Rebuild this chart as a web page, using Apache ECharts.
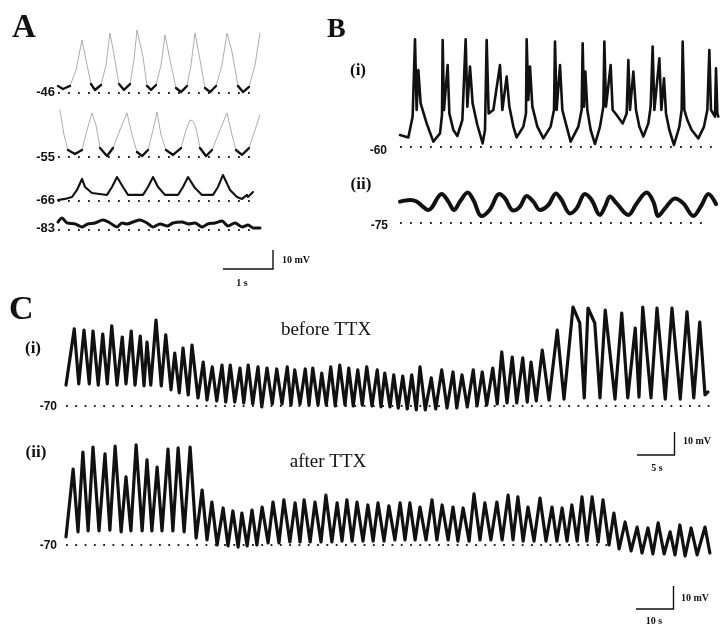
<!DOCTYPE html>
<html><head><meta charset="utf-8">
<script src="https://cdn.jsdelivr.net/npm/echarts/dist/echarts.min.js"></script>
<style>html,body{margin:0;padding:0;background:#fff}#c{width:728px;height:628px}</style>
</head><body><div id="c"></div><script>
// ---------- DATA: [time (s), membrane potential (mV)] ----------
// Panel A, holding levels
const a46 = [[0,-42.3],[0.1,-43.9],[0.24,-42.3],[0.36,-33.9],[0.48,-18.1],[0.56,-28.6],[0.66,-41.3],[0.74,-44.4],[0.86,-41.8],[0.96,-31.3],[1.04,-14.4],[1.12,-26.0],[1.22,-41.3],[1.32,-44.4],[1.44,-41.3],[1.52,-28.6],[1.58,-12.8],[1.7,-27.1],[1.78,-42.3],[1.86,-44.4],[1.96,-41.8],[2.06,-31.3],[2.14,-15.5],[2.24,-28.6],[2.36,-43.4],[2.46,-45.5],[2.58,-42.3],[2.66,-31.3],[2.74,-14.4],[2.84,-28.6],[2.94,-43.4],[3.04,-45.5],[3.16,-42.3],[3.28,-31.3],[3.38,-14.4],[3.48,-24.4],[3.6,-42.3],[3.7,-45.5],[3.82,-42.8],[3.94,-31.3],[4.04,-14.4]];
const a55 = [[0.04,-30.3],[0.12,-43.4],[0.2,-51.3],[0.34,-53.4],[0.48,-51.3],[0.58,-40.8],[0.68,-31.8],[0.76,-38.2],[0.84,-50.3],[0.98,-54.5],[1.1,-50.3],[1.24,-40.8],[1.38,-31.8],[1.48,-43.4],[1.58,-52.4],[1.68,-54.5],[1.8,-51.3],[1.9,-40.8],[1.98,-31.3],[2.06,-43.4],[2.16,-51.3],[2.3,-53.9],[2.46,-50.3],[2.56,-40.8],[2.64,-35.5],[2.7,-36.1],[2.76,-39.7],[2.84,-50.3],[2.96,-54.5],[3.08,-51.3],[3.24,-40.8],[3.38,-31.8],[3.48,-43.4],[3.56,-51.3],[3.68,-53.9],[3.82,-50.3],[3.94,-40.8],[4.04,-32.9]];
const a66 = [[0,-65.5],[0.14,-64.9],[0.28,-63.9],[0.38,-60.2],[0.48,-54.4],[0.54,-58.6],[0.68,-61.8],[0.72,-62.8],[0.98,-62.8],[1.08,-58.6],[1.18,-53.4],[1.3,-58.6],[1.4,-62.8],[1.7,-62.8],[1.8,-58.6],[1.9,-53.4],[2.0,-58.6],[2.14,-62.8],[2.4,-62.8],[2.5,-58.6],[2.6,-53.4],[2.74,-59.2],[2.88,-62.8],[3.1,-62.8],[3.2,-58.6],[3.3,-52.3],[3.44,-60.2],[3.58,-63.9],[3.68,-64.9],[3.78,-62.8],[3.8,-63.9],[3.9,-61.3]];
const a83 = [[0,-78.8],[0.08,-76.7],[0.18,-79.3],[0.34,-79.8],[0.48,-81.4],[0.6,-79.8],[0.74,-79.3],[0.9,-77.7],[1.04,-79.3],[1.18,-81.4],[1.28,-79.3],[1.38,-79.8],[1.5,-78.8],[1.64,-77.7],[1.78,-79.3],[1.9,-81.4],[2.04,-79.8],[2.18,-80.9],[2.3,-79.3],[2.48,-78.8],[2.6,-79.8],[2.74,-79.3],[2.88,-81.4],[3.0,-79.8],[3.14,-79.3],[3.28,-78.3],[3.4,-80.9],[3.54,-79.3],[3.68,-81.4],[3.8,-80.4],[3.9,-81.9],[4.04,-81.9]];
// Panel B
const bI = [
 [0,-54.0],[0.167,-55.2],
 [0.253,-44.8],[0.3,-6.2],[0.333,-41.5],[0.367,-21.5],[0.413,-38.2],[0.533,-48.2],[0.667,-57.3],
 [0.8,-53.2],[0.84,-44.0],[0.853,-6.5],[0.88,-41.5],[0.953,-19.0],[0.987,-43.2],[1.067,-51.5],[1.147,-54.5],
 [1.247,-46.5],[1.313,-6.2],[1.347,-39.8],[1.4,-19.8],[1.453,-38.2],[1.547,-49.0],[1.653,-58.2],
 [1.7,-51.5],[1.733,-6.5],[1.773,-43.2],[1.867,-41.5],[2.0,-19.0],[2.047,-41.5],[2.133,-24.8],[2.187,-39.8],[2.267,-49.8],[2.333,-55.2],
 [2.467,-49.8],[2.52,-43.2],[2.533,-6.2],[2.567,-36.5],[2.6,-19.8],[2.647,-39.8],[2.747,-49.8],[2.867,-55.7],
 [3.013,-49.8],[3.08,-41.5],[3.1,-7.3],[3.133,-41.5],[3.2,-19.0],[3.247,-41.5],[3.333,-49.8],[3.413,-57.3],
 [3.567,-49.8],[3.633,-41.5],[3.653,-8.2],[3.68,-39.8],[3.707,-22.3],[3.747,-41.5],[3.813,-51.5],[3.9,-58.5],
 [4.0,-49.8],[4.067,-39.8],[4.087,-7.3],[4.12,-39.8],[4.213,-19.0],[4.253,-41.5],[4.333,-44.0],[4.453,-48.2],
 [4.533,-43.2],[4.567,-16.5],[4.6,-41.5],[4.667,-22.3],[4.72,-41.5],[4.787,-49.8],[4.867,-54.8],
 [4.967,-48.2],[5.013,-39.8],[5.053,-9.8],[5.087,-41.5],[5.187,-15.7],[5.227,-41.5],[5.28,-25.7],[5.32,-43.2],[5.387,-51.5],[5.48,-59.0],
 [5.587,-49.8],[5.633,-41.5],[5.653,-7.3],[5.687,-41.5],[5.747,-46.5],[5.833,-51.5],[5.967,-55.7],
 [6.08,-49.8],[6.147,-41.5],[6.187,-11.5],[6.22,-41.5],[6.3,-44.8],[6.32,-20.7],[6.347,-43.2],[6.367,-44.8]];
const bII = [[0,-64.3],[0.2,-63.5],[0.333,-64.3],[0.567,-68.5],[0.833,-60.5],[0.967,-64.3],[1.08,-68.5],[1.2,-64.3],[1.353,-59.8],[1.467,-63.5],[1.633,-71.5],[1.8,-68.2],[1.987,-60.5],[2.1,-62.7],[2.267,-68.8],[2.4,-66.8],[2.533,-61.5],[2.667,-64.3],[2.8,-68.5],[2.967,-66.0],[3.12,-60.2],[3.233,-63.5],[3.4,-70.2],[3.533,-67.7],[3.7,-60.5],[3.833,-63.5],[4.0,-71.0],[4.1,-66.8],[4.2,-61.8],[4.333,-65.2],[4.567,-71.0],[4.733,-65.2],[4.933,-59.8],[5.067,-64.3],[5.167,-71.5],[5.3,-67.7],[5.5,-62.7],[5.667,-65.2],[5.867,-71.5],[6.033,-66.0],[6.167,-60.5],[6.32,-65.5]];
// Panel C
const cBefore = [[0,-60.9],
 [1.1,-36.5],[1.7,-60.4],[2.4,-37.0],[3.1,-60.4],[3.6,-37.4],[4.3,-60.9],[4.9,-38.7],[5.5,-60.4],[6.1,-35.2],[6.8,-60.9],
 [7.5,-40.0],[8.0,-60.4],[8.7,-37.4],[9.2,-60.9],[9.9,-39.6],[10.4,-61.3],[10.8,-42.2],[11.3,-60.9],[12.0,-32.6],[12.7,-61.3],
 [13.3,-39.1],[14.0,-63.0],[14.5,-47.0],[15.1,-64.3],[15.6,-44.8],[16.3,-65.2],[16.8,-43.5],[17.6,-66.5],[18.3,-50.9],[18.8,-67.4],
 [19.5,-53.0],[20.1,-67.8],[20.8,-52.2],[21.3,-68.3],[21.9,-52.2],[22.5,-68.3],[23.2,-53.5],[23.7,-68.7],[24.3,-52.2],[24.9,-69.1],
 [25.6,-53.0],[26.1,-70.4],[26.8,-53.5],[27.5,-69.1],[28.1,-53.9],[28.8,-69.1],[29.5,-53.0],[30.0,-69.6],[30.5,-54.3],[31.2,-69.1],
 [31.9,-53.9],[32.4,-69.6],[32.9,-53.5],[33.6,-69.6],[34.1,-55.7],[34.7,-69.6],[35.3,-53.0],[35.9,-70.0],[36.5,-52.2],[37.2,-69.6],
 [37.7,-53.5],[38.3,-70.0],[38.9,-54.3],[39.5,-69.6],[40.1,-53.0],[40.8,-70.0],[41.5,-54.3],[42.0,-70.4],[42.5,-55.7],[43.2,-70.4],
 [43.7,-56.5],[44.3,-70.9],[44.9,-57.0],[45.5,-71.3],[46.1,-56.5],[46.7,-71.7],[47.2,-53.0],[47.9,-71.7],[48.7,-57.8],[49.3,-71.3],
 [50.1,-54.3],[50.8,-70.9],[51.6,-55.2],[52.1,-70.9],[52.8,-56.5],[53.5,-70.4],[54.3,-54.3],[54.8,-70.0],[55.5,-55.2],[56.1,-69.6],
 [56.9,-53.5],[57.5,-69.1],[58.1,-46.5],[58.8,-68.7],[59.5,-48.7],[60.1,-68.7],[60.9,-49.1],[61.5,-68.3],[62.0,-50.9],[62.7,-67.8],
 [63.5,-45.7],[64.4,-67.4],[65.5,-37.0],[66.4,-67.0],[67.6,-27.0],[68.5,-33.9],[69.1,-66.5],[69.6,-27.4],[70.5,-33.9],[71.2,-66.5],
 [71.9,-28.3],[73.2,-67.0],[74.1,-29.6],[74.9,-66.5],[75.9,-36.1],[76.4,-66.1],[76.9,-27.0],[78.0,-66.5],[78.8,-27.4],[79.9,-67.0],
 [80.8,-27.4],[81.9,-67.0],[82.8,-29.1],[83.7,-66.5],[84.5,-33.5],[85.2,-65.2],[85.6,-63.9]];
const cAfter = [[0,-66.5],
 [1.9,-37.0],[3.2,-64.3],[4.5,-29.6],[5.9,-63.9],[7.2,-27.4],[8.8,-63.9],[10.4,-30.4],[11.7,-63.5],[13.1,-27.0],[14.7,-64.3],
 [16.0,-40.4],[17.3,-63.9],[18.7,-26.5],[20.3,-63.9],[21.6,-33.0],[22.9,-63.9],[24.3,-36.1],[25.6,-63.9],[27.2,-28.3],[28.5,-63.9],
 [29.9,-27.8],[31.5,-64.3],[33.1,-27.4],[34.7,-67.0],[36.3,-46.1],[37.6,-67.8],[38.9,-51.3],[40.3,-70.0],[41.9,-53.9],[43.2,-70.4],
 [44.5,-55.2],[45.9,-70.9],[46.9,-56.1],[48.3,-70.4],[49.6,-54.8],[50.9,-70.0],[52.3,-53.5],[53.9,-69.1],[55.2,-51.3],[56.8,-69.1],
 [58.1,-50.4],[59.7,-68.7],[61.1,-51.7],[62.4,-68.7],[63.5,-50.4],[65.1,-68.7],[66.4,-51.3],[68.0,-68.7],[69.3,-48.3],[70.9,-68.7],
 [72.3,-51.7],[73.6,-68.3],[74.9,-50.4],[76.3,-68.3],[77.6,-51.3],[79.2,-68.3],[80.5,-52.6],[81.9,-68.3],[83.2,-51.7],[84.8,-68.3],
 [86.1,-53.0],[87.7,-67.8],[89.1,-51.7],[90.4,-67.8],[91.7,-51.7],[93.1,-67.8],[94.4,-53.5],[96.0,-67.8],[97.6,-50.4],[98.9,-67.8],
 [100.3,-52.6],[101.9,-67.8],[103.2,-53.5],[104.5,-68.3],[105.9,-53.9],[107.5,-68.3],[108.8,-47.8],[110.4,-67.8],[111.7,-51.7],[113.3,-67.8],
 [114.9,-51.3],[116.3,-67.8],[117.9,-48.3],[119.2,-67.8],[120.5,-49.1],[121.9,-68.3],[123.2,-53.5],[124.8,-68.3],[126.4,-49.6],[128.0,-68.3],
 [129.6,-53.5],[130.9,-68.3],[132.3,-53.9],[133.6,-68.3],[134.9,-52.6],[136.3,-68.3],[137.6,-49.1],[138.9,-68.3],[140.3,-49.1],[141.9,-68.7],
 [143.2,-50.4],[144.8,-70.0],[146.1,-56.1],[147.5,-71.7],[149.1,-60.0],[150.7,-72.6],[152.3,-62.2],[153.6,-73.5],[155.2,-62.6],[156.5,-73.9],
 [157.9,-60.4],[159.5,-73.9],[161.1,-64.3],[162.4,-74.3],[163.7,-61.3],[165.1,-74.8],[166.7,-62.6],[168.3,-74.3],[170.4,-62.2],[171.7,-73.5]];
// scale bars: [seconds, mV]
const scaleA = [1, 10];
const scaleCi = [5, 10];
const scaleCii = [10, 10];
// baseline potentials (mV) for the dotted reference lines
const baseA = [-46, -55, -66, -83];
const baseB = [-60, -75];
const baseC = [-70, -70];

// ---------- LAYOUT (pixels) ----------
const INK = '#111';
const panels = [
  {data:a46, base:baseA[0], x0:58, yB:93, pxS:50, pxMv:1.9, tMax:4.1, vMin:-48, vMax:-10, dotEnd:3.84, dot:10, width:0.9, color:'#a4a4a4', overlay:5},
  {data:a55, base:baseA[1], x0:58, yB:157, pxS:50, pxMv:1.9, tMax:4.1, vMin:-57, vMax:-28, dotEnd:3.84, dot:10, width:0.9, color:'#a4a4a4', overlay:6},
  {data:a66, base:baseA[2], x0:58, yB:201, pxS:50, pxMv:1.9, tMax:4.1, vMin:-67, vMax:-50, dotEnd:3.84, dot:10, width:2.1, color:INK},
  {data:a83, base:baseA[3], x0:58, yB:230, pxS:50, pxMv:1.9, tMax:4.1, vMin:-84, vMax:-75, dotEnd:3.84, dot:10, width:3, color:INK, smooth:0.3},
  {data:bI, base:baseB[0], x0:400, yB:147, pxS:50, pxMv:2, tMax:6.4, vMin:-62, vMax:-4, dotEnd:6.3, dot:10, width:2.6, color:INK},
  {data:bII, base:baseB[1], x0:400, yB:223, pxS:50, pxMv:2, tMax:6.4, vMin:-77, vMax:-57, dotEnd:6.1, dot:10, width:4, color:INK, smooth:0.35},
  {data:cBefore, base:baseC[0], x0:66, yB:406, pxS:7.5, pxMv:2.3, tMax:86.5, vMin:-74, vMax:-24, dotEnd:86, dot:9.3, width:3.2, color:INK},
  {data:cAfter, base:baseC[1], x0:66, yB:545, pxS:3.75, pxMv:2.3, tMax:172.5, vMin:-77, vMax:-24, dotEnd:145, dot:9.3, width:3.2, color:INK},
  {bar:scaleA, base:0, x0:223, yB:269, pxS:50, pxMv:1.9},
  {bar:scaleCi, base:0, x0:637, yB:455, pxS:7.5, pxMv:2.3},
  {bar:scaleCii, base:0, x0:636, yB:609, pxS:3.75, pxMv:2.3}
];

const grid = [], xAxis = [], yAxis = [], series = [];
panels.forEach((P, i) => {
  if (P.bar) { P.tMax = P.bar[0]; P.vMin = 0; P.vMax = P.bar[1]; }
  grid.push({left:P.x0, top:P.yB - (P.vMax - P.base) * P.pxMv, width:P.tMax * P.pxS, height:(P.vMax - P.vMin) * P.pxMv, containLabel:false});
  xAxis.push({type:'value', gridIndex:i, min:0, max:P.tMax, show:false});
  yAxis.push({type:'value', gridIndex:i, min:P.vMin, max:P.vMax, show:false});
  if (P.bar) {
    series.push({type:'line', xAxisIndex:i, yAxisIndex:i, symbol:'none', clip:false, silent:true,
      data:[[0,0],[P.bar[0],0],[P.bar[0],P.bar[1]]], lineStyle:{color:INK, width:1.4, join:'miter', cap:'butt'}});
    return;
  }
  const s = {type:'line', xAxisIndex:i, yAxisIndex:i, data:P.data, symbol:'none', showSymbol:false, clip:false, silent:true,
    smooth:P.smooth || false, lineStyle:{color:P.color, width:P.width, join:'round', cap:'round'},
    markLine:{silent:true, symbol:['none','none'], label:{show:false}, animation:false,
      lineStyle:{type:[1.8, P.dot - 1.8], width:1.8, color:'#222', cap:'butt'},
      data:[[{coord:[0, P.base]}, {coord:[P.dotEnd, P.base]}]]}};
  series.push(s);
  if (P.overlay) {
    series.push({type:'line', xAxisIndex:i, yAxisIndex:i, symbol:'none', clip:false, silent:true, connectNulls:false,
      data:P.data.map(p => p[1] <= P.base + P.overlay ? p : [p[0], '-']),
      lineStyle:{color:INK, width:2.4, join:'round', cap:'round'}});
  }
});

const SERIF = '"Liberation Serif", "Times New Roman", serif';
const SANS = '"Liberation Sans", Arial, sans-serif';
const texts = [
  ['A', 12, 28, 'bold 33px ' + SERIF, 'left'],
  ['B', 327, 30, 'bold 28px ' + SERIF, 'left'],
  ['C', 9, 310, 'bold 34px ' + SERIF, 'left'],
  ['-46', 55, 92, 'bold 13px ' + SANS, 'right'],
  ['-55', 55, 157, 'bold 13px ' + SANS, 'right'],
  ['-66', 55, 200, 'bold 13px ' + SANS, 'right'],
  ['-83', 55, 228, 'bold 13px ' + SANS, 'right'],
  ['(i)', 358, 71, 'bold 17px ' + SERIF, 'center'],
  ['(ii)', 361, 185, 'bold 17px ' + SERIF, 'center'],
  ['-60', 387, 151, 'bold 12px ' + SANS, 'right'],
  ['-75', 388, 226, 'bold 12px ' + SANS, 'right'],
  ['(i)', 33, 349, 'bold 17px ' + SERIF, 'center'],
  ['(ii)', 36, 453, 'bold 17px ' + SERIF, 'center'],
  ['-70', 57, 407, 'bold 12px ' + SANS, 'right'],
  ['-70', 57, 546, 'bold 12px ' + SANS, 'right'],
  ['before TTX', 326, 330, '19px ' + SERIF, 'center'],
  ['after TTX', 328, 462, '19px ' + SERIF, 'center'],
  ['10 mV', 282, 260, 'bold 10px ' + SERIF, 'left'],
  ['1 s', 242, 283, 'bold 10px ' + SERIF, 'center'],
  ['10 mV', 683, 441, 'bold 10px ' + SERIF, 'left'],
  ['5 s', 657, 468, 'bold 10px ' + SERIF, 'center'],
  ['10 mV', 681, 598, 'bold 10px ' + SERIF, 'left'],
  ['10 s', 654, 621, 'bold 10px ' + SERIF, 'center']
];
const graphic = texts.map(t => ({type:'text', x:t[1], y:t[2], silent:true,
  style:{text:t[0], font:t[3], fill:INK, align:t[4], textAlign:t[4], verticalAlign:'middle', textVerticalAlign:'middle'}}));

const chart = echarts.init(document.getElementById('c'), null, {renderer:'canvas'});
chart.setOption({animation:false, backgroundColor:'#fff', grid, xAxis, yAxis, series, graphic});
</script></body></html>
